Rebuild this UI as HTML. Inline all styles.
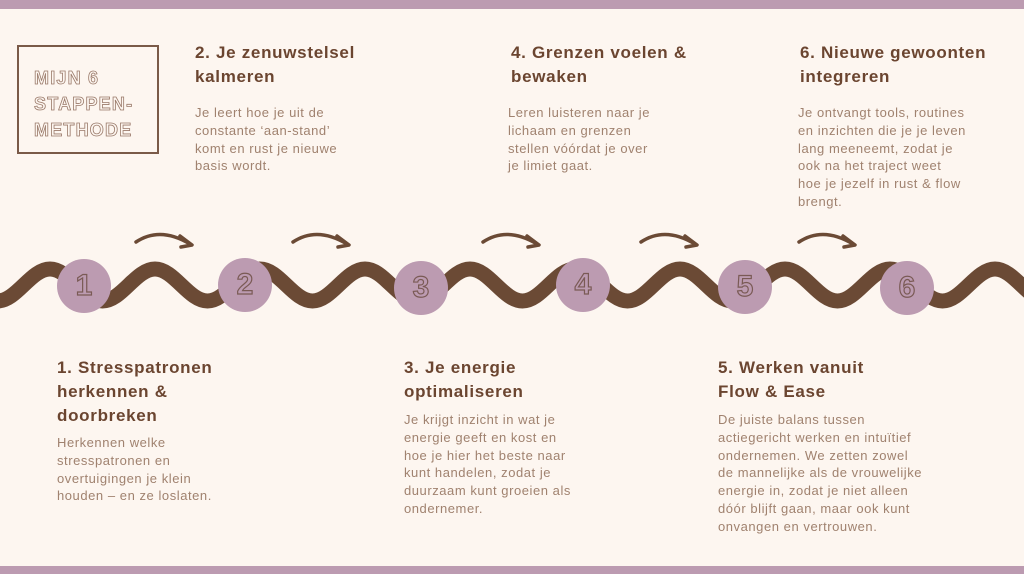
<!DOCTYPE html>
<html><head><meta charset="utf-8"><style>
body{margin:0;width:1024px;height:574px;background:#fdf6f0;position:relative;overflow:hidden;font-family:"Liberation Sans",sans-serif}
.bar{position:absolute;left:0;width:1024px;height:9px;background:#bc9bb1}
.h{position:absolute;color:#6b4530;font-weight:bold;font-size:17px;line-height:24px;letter-spacing:0.7px;white-space:nowrap}
.b{position:absolute;color:#a0826f;font-size:13px;line-height:17.8px;letter-spacing:0.55px;white-space:nowrap}
.box{position:absolute;left:17px;top:45px;width:142px;height:109px;border:2px solid #7a5a48;box-sizing:border-box}
.box div{position:absolute;left:15px;top:18px;font-size:18px;line-height:26px;font-weight:bold;color:#fdf6f0;-webkit-text-stroke:0.8px #9a7a6a;letter-spacing:1.2px}
.c{position:absolute;width:54px;height:54px;border-radius:50%;background:#bc9bb1;text-align:center;line-height:54px;font-size:30px;font-weight:bold;color:#bc9bb1;-webkit-text-stroke:1.2px #7a5a55}
</style></head><body>
<div class="bar" style="top:0"></div>
<div class="bar" style="top:566px;height:8px"></div>
<div class="box"><div>MIJN 6<br>STAPPEN-<br>METHODE</div></div>
<svg width="1024" height="574" style="position:absolute;left:0;top:0">
<path d="M-2.5 301 C16.5 301 31 269 50 269 S83.5 301 102.5 301 S136 269 155 269 S188.5 301 207.5 301 S241 269 260 269 S293.5 301 312.5 301 S346 269 365 269 S398.5 301 417.5 301 S451 269 470 269 S503.5 301 522.5 301 S556 269 575 269 S608.5 301 627.5 301 S661 269 680 269 S713.5 301 732.5 301 S766 269 785 269 S818.5 301 837.5 301 S871 269 890 269 S923.5 301 942.5 301 S976 269 995 269 S1028.5 301 1047.5 301" fill="none" stroke="#6b4a35" stroke-width="15"/>
<g fill="none" stroke="#6b4a35" stroke-width="3.5" stroke-linecap="round" stroke-linejoin="round">
<g id="a"><path d="M136 242 Q160 226 190 244"/><path d="M180 236 L192 245 L181 247"/></g>
<use href="#a" x="157"/><use href="#a" x="347"/><use href="#a" x="505"/><use href="#a" x="663"/>
</g></svg>
<div class="c" style="left:57px;top:259px">1</div>
<div class="c" style="left:218px;top:258px">2</div>
<div class="c" style="left:394px;top:261px">3</div>
<div class="c" style="left:556px;top:258px">4</div>
<div class="c" style="left:718px;top:260px">5</div>
<div class="c" style="left:880px;top:261px">6</div>
<div class="h" style="left:195px;top:41px">2. Je zenuwstelsel<br>kalmeren</div>
<div class="b" style="left:195px;top:104px">Je leert hoe je uit de<br>constante ‘aan-stand’<br>komt en rust je nieuwe<br>basis wordt.</div>
<div class="h" style="left:511px;top:41px">4. Grenzen voelen &amp;<br>bewaken</div>
<div class="b" style="left:508px;top:104px">Leren luisteren naar je<br>lichaam en grenzen<br>stellen vóórdat je over<br>je limiet gaat.</div>
<div class="h" style="left:800px;top:41px">6. Nieuwe gewoonten<br>integreren</div>
<div class="b" style="left:798px;top:104px">Je ontvangt tools, routines<br>en inzichten die je je leven<br>lang meeneemt, zodat je<br>ook na het traject weet<br>hoe je jezelf in rust &amp; flow<br>brengt.</div>
<div class="h" style="left:57px;top:356px">1. Stresspatronen<br>herkennen &amp;<br>doorbreken</div>
<div class="b" style="left:57px;top:434px">Herkennen welke<br>stresspatronen en<br>overtuigingen je klein<br>houden – en ze loslaten.</div>
<div class="h" style="left:404px;top:356px">3. Je energie<br>optimaliseren</div>
<div class="b" style="left:404px;top:411px">Je krijgt inzicht in wat je<br>energie geeft en kost en<br>hoe je hier het beste naar<br>kunt handelen, zodat je<br>duurzaam kunt groeien als<br>ondernemer.</div>
<div class="h" style="left:718px;top:356px">5. Werken vanuit<br>Flow &amp; Ease</div>
<div class="b" style="left:718px;top:411px">De juiste balans tussen<br>actiegericht werken en intuïtief<br>ondernemen. We zetten zowel<br>de mannelijke als de vrouwelijke<br>energie in, zodat je niet alleen<br>dóór blijft gaan, maar ook kunt<br>onvangen en vertrouwen.</div>
</body></html>
